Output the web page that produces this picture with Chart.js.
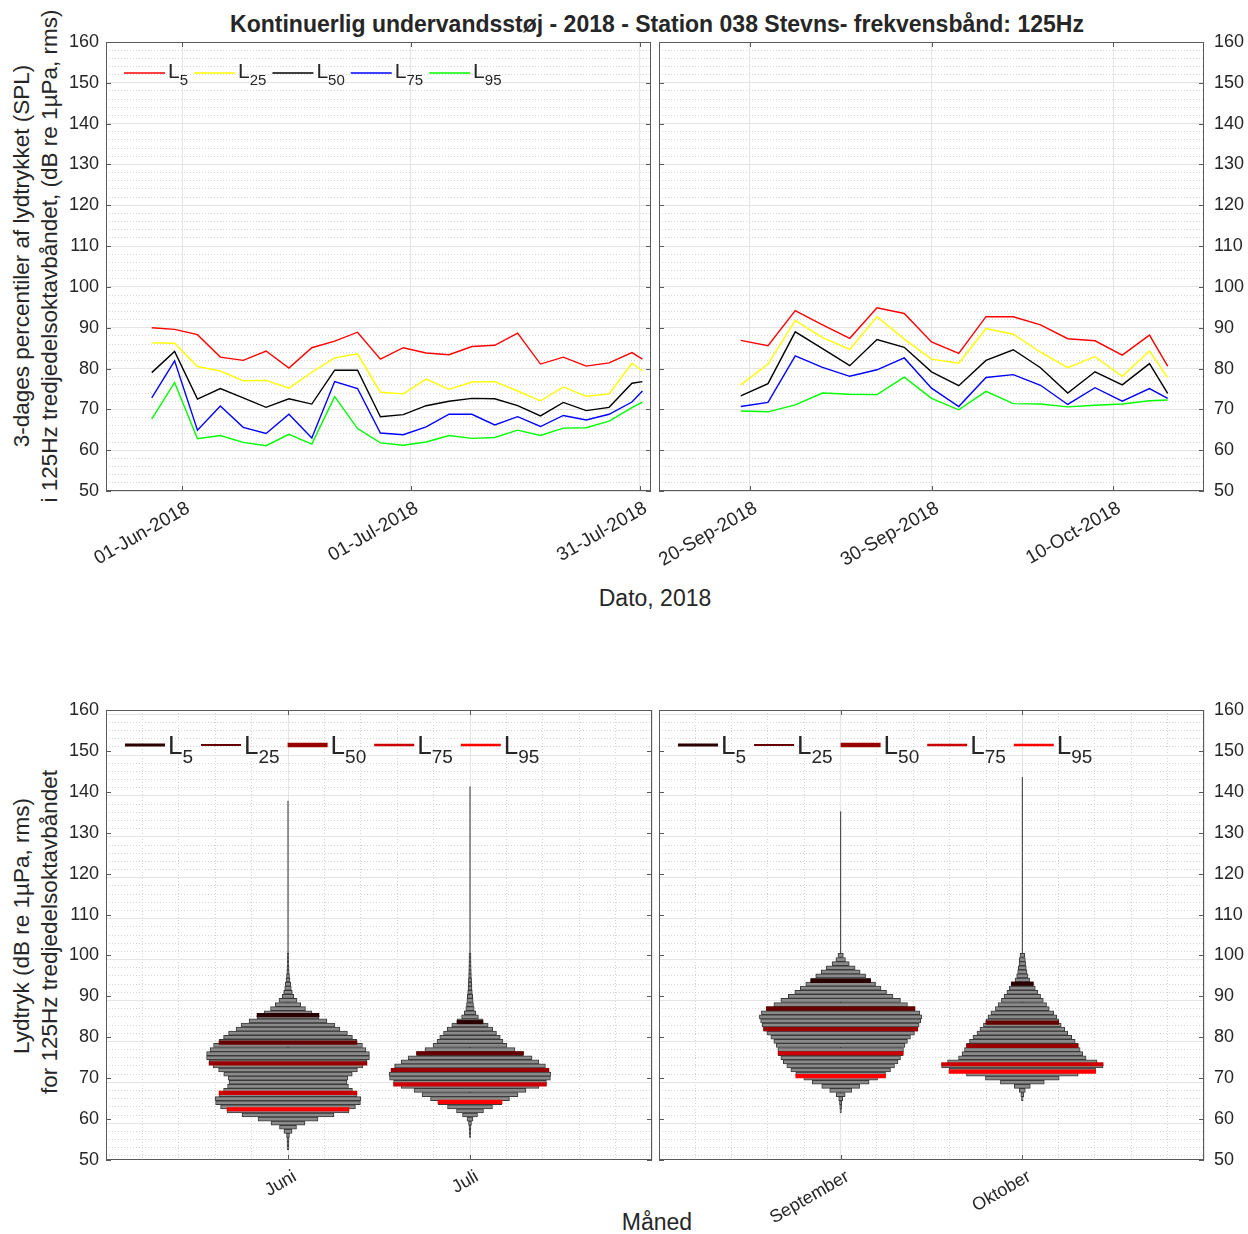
<!DOCTYPE html>
<html>
<head>
<meta charset="utf-8">
<script src="https://cdn.jsdelivr.net/npm/chart.js@4.4.0/dist/chart.umd.min.js"></script>
<style>
  body { margin: 0; background: #fff; width: 1248px; height: 1234px; position: relative; overflow: hidden;
         font-family: 'Liberation Sans', Arial, sans-serif; color: #262626; }
  canvas { position: absolute; }
  .t { position: absolute; white-space: nowrap; transform: translate(-50%, -50%); }
  .rot { transform: translate(-50%, -50%) rotate(-90deg); }
</style>
</head>
<body>
<div class="t" style="left:657px;top:24px;font-weight:bold;font-size:23px">Kontinuerlig undervandsstøj - 2018 - Station 038 Stevns- frekvensbånd: 125Hz</div>
<div class="t rot" style="left:22px;top:256px;font-size:22.5px">3-dages percentiler af lydtrykket (SPL)</div>
<div class="t rot" style="left:50px;top:256px;font-size:22.5px">i 125Hz tredjedelsoktavbåndet, (dB re 1µPa, rms)</div>
<div class="t" style="left:655px;top:598px;font-size:23px">Dato, 2018</div>
<div class="t rot" style="left:22px;top:926px;font-size:22.5px">Lydtryk (dB re 1µPa, rms)</div>
<div class="t rot" style="left:50px;top:932px;font-size:22.5px">for 125Hz tredjedelsoktavbåndet</div>
<div class="t" style="left:657px;top:1222px;font-size:23px">Måned</div>

<canvas id="tl" width="655" height="620" style="left:0;top:0"></canvas>
<canvas id="tr" width="593" height="620" style="left:655px;top:0"></canvas>
<canvas id="bl" width="655" height="594" style="left:0;top:640px"></canvas>
<canvas id="br" width="593" height="594" style="left:655px;top:640px"></canvas>

<script>
// --- 3-dages percentiler, juni-juli
const summerDates = ['2018-05-28', '2018-05-31', '2018-06-03', '2018-06-06', '2018-06-09', '2018-06-12',
  '2018-06-15', '2018-06-18', '2018-06-21', '2018-06-24', '2018-06-27', '2018-06-30', '2018-07-03',
  '2018-07-06', '2018-07-09', '2018-07-12', '2018-07-15', '2018-07-18', '2018-07-21', '2018-07-24',
  '2018-07-27', '2018-07-30', '2018-07-31T09:00Z'];
const summerL5 = [90.0, 89.6, 88.3, 82.8, 82.0, 84.3, 80.1, 85.1, 86.7, 88.9, 82.3, 85.1, 83.8, 83.4, 85.4, 85.7, 88.7, 81.1, 82.8, 80.6, 81.4, 83.9, 82.3];
const summerL25 = [86.3, 86.2, 80.5, 79.4, 77.0, 77.1, 75.2, 79.1, 82.6, 83.6, 74.2, 73.8, 77.4, 74.9, 76.7, 76.8, 74.5, 72.1, 75.5, 73.2, 73.8, 81.3, 79.4];
const summerL50 = [79.0, 84.2, 72.5, 75.1, 72.8, 70.5, 72.6, 71.3, 79.6, 79.6, 68.2, 68.7, 70.9, 72.0, 72.7, 72.6, 70.9, 68.4, 71.7, 69.7, 70.5, 76.4, 76.8];
const summerL75 = [72.8, 81.9, 64.9, 70.8, 65.6, 64.1, 68.8, 63.0, 76.8, 75.1, 64.2, 63.8, 65.7, 68.8, 68.8, 66.2, 68.2, 65.8, 68.5, 67.4, 68.8, 71.8, 74.5];
const summerL95 = [67.6, 76.6, 62.8, 63.6, 61.9, 61.1, 63.9, 61.5, 73.1, 65.3, 61.8, 61.2, 62.0, 63.6, 62.9, 63.1, 64.9, 63.6, 65.4, 65.5, 67.1, 70.4, 71.8];
const summerTicks = ['2018-06-01', '2018-07-01', '2018-07-31'];
const summerRange = ['2018-05-22', '2018-08-01T12:00Z'];

// --- 3-dages percentiler, september-oktober
const autumnDates = ['2018-09-19T12:00Z', '2018-09-21', '2018-09-22T12:00Z', '2018-09-24', '2018-09-25T12:00Z',
  '2018-09-27', '2018-09-28T12:00Z', '2018-09-30', '2018-10-01T12:00Z', '2018-10-03', '2018-10-04T12:00Z',
  '2018-10-06', '2018-10-07T12:00Z', '2018-10-09', '2018-10-10T12:00Z', '2018-10-12', '2018-10-13'];
const autumnL5 = [86.9, 85.6, 94.2, 90.7, 87.4, 94.9, 93.5, 86.5, 83.7, 92.7, 92.7, 90.7, 87.3, 86.8, 83.3, 88.2, 80.6];
const autumnL25 = [76.0, 81.1, 91.8, 87.6, 84.7, 92.7, 87.2, 82.3, 81.3, 89.8, 88.4, 84.0, 80.2, 82.9, 78.1, 84.3, 77.8];
const autumnL50 = [73.3, 76.3, 89.0, 84.9, 80.7, 87.1, 85.2, 79.2, 75.8, 82.0, 84.6, 80.2, 74.0, 79.2, 76.0, 81.2, 73.9];
const autumnL75 = [70.7, 71.7, 83.1, 80.3, 78.1, 79.7, 82.6, 75.2, 70.7, 77.8, 78.5, 75.9, 71.2, 75.3, 72.0, 75.1, 72.7];
const autumnL95 = [69.6, 69.4, 71.1, 74.0, 73.7, 73.6, 77.9, 72.7, 69.9, 74.4, 71.4, 71.3, 70.6, 71.0, 71.3, 72.1, 72.3];
const autumnTicks = ['2018-09-20', '2018-09-30', '2018-10-10'];
const autumnRange = ['2018-09-15', '2018-10-15'];

const pctNames = ['5', '25', '50', '75', '95'];

// --- fordeling pr. maaned (1 dB klasser, relativ hyppighed)
const levels = [52, 53, 54, 55, 56, 57, 58, 59, 60, 61, 62, 63, 64, 65, 66, 67, 68, 69, 70, 71, 72, 73, 74, 75,
  76, 77, 78, 79, 80, 81, 82, 83, 84, 85, 86, 87, 88, 89, 90, 91, 92, 93, 94, 95, 96, 97, 98, 99, 100];
const histJuni = [0, 0.8, 1, 1, 1.5, 4, 8.5, 17, 30, 46, 61, 67.5, 72.5, 73, 69, 64.5, 60.5, 59, 60, 64.3, 69.5, 75, 79, 81.5,
  81.5, 78, 74.5, 69, 64.5, 59.5, 52, 47, 39, 31, 24, 17.5, 12.7, 9, 5.8, 4.3, 3.3, 2.8, 2, 1.5, 1.2, 1, 0.8, 0.7, 0.7];
const histJuli = [0, 0, 0, 0, 0.7, 0.8, 1, 1.5, 3, 7.5, 13.5, 22.5, 32, 39.5, 48, 56, 69, 76.5, 80.5, 81, 79, 75.5, 69, 62,
  53.5, 45, 37, 33, 30.3, 26.5, 22.8, 18.2, 13, 8.4, 5.8, 4.2, 3.5, 3.1, 2.7, 2.3, 2, 1.8, 1.6, 1.4, 1.3, 1.2, 1.1, 1, 1];
const histSep = [0, 0, 0, 0, 0, 0, 0, 0, 0, 0, 0.7, 0.9, 1.2, 2, 4.5, 11, 19, 28.5, 37, 45, 50, 54, 57.5, 60,
  62.7, 63, 64.5, 67, 70, 74, 77.3, 78.7, 80.3, 81.5, 79.5, 74.5, 67, 60, 52.5, 46, 40.5, 35, 30, 25, 19.5, 14.5, 8.6, 4.8, 2.7];
const histOkt = [0, 0, 0, 0, 0, 0, 0, 0, 0, 0, 0, 0, 0, 0.8, 1.5, 3, 8, 22, 37, 56, 73.5, 81, 75, 64,
  60.5, 58, 56, 53, 49.5, 45.5, 42.5, 39, 36.5, 34.5, 31.5, 27, 24.3, 21, 18.3, 15.5, 13, 11, 7.3, 5.7, 4.7, 4, 3.3, 3, 2.4];
const pctJuni = [85.4, 78.7, 73.6, 66.4, 62.4];
const pctJuli = [83.7, 76.1, 72.0, 68.5, 64.2];
const pctSep = [93.8, 87.0, 82.0, 76.1, 70.5];
const pctOkt = [93.1, 83.6, 77.9, 73.4, 71.6];
const tailJuni = [53.2, 137.8];   // min / max niveau
const tailJuli = [56.1, 141.3];
const tailSep = [61.7, 135.2];
const tailOkt = [64.5, 143.6];
const monthsSummer = ['Juni', 'Juli'];
const monthsAutumn = ['September', 'Oktober'];

// --- stil
const FONT = "'Liberation Sans', Arial, sans-serif";
const TXT = '#262626';
Chart.defaults.font.family = FONT;
Chart.defaults.color = TXT;
Chart.defaults.animation = false;

const lineColors = ['#ff0000', '#ffff00', '#000000', '#0000ff', '#00ff00'];
const pctColors = ['#2a0000', '#660000', '#990000', '#cc0000', '#ff0000'];
const pctLegendWidth = [3, 2, 4.5, 2.5, 2.5];
const VIOLIN_SCALE = 0.45 / 82;

const DAY = 86400000;
const dayNo = (s, ref) => (Date.parse(s) - Date.parse(ref)) / DAY;
const MON = ['Jan', 'Feb', 'Mar', 'Apr', 'May', 'Jun', 'Jul', 'Aug', 'Sep', 'Oct', 'Nov', 'Dec'];
function fmtDate(s) {
  const d = new Date(Date.parse(s));
  return String(d.getUTCDate()).padStart(2, '0') + '-' + MON[d.getUTCMonth()] + '-' + d.getUTCFullYear();
}
const isInt = v => Math.abs(v - Math.round(v)) < 1e-6;

// ramme + indadvendte tick marks (matlab stil)
const boxPlugin = {
  id: 'box',
  afterDatasetsDraw(chart) {
    const { ctx, chartArea: a, scales } = chart;
    ctx.save();
    ctx.strokeStyle = '#5a5a5a';
    ctx.lineWidth = 1;
    ctx.beginPath();
    scales.y.ticks.forEach(t => {
      if (t.value % 10 !== 0) return;
      const py = Math.round(scales.y.getPixelForValue(t.value)) + 0.5;
      ctx.moveTo(a.left, py); ctx.lineTo(a.left + 5, py);
      ctx.moveTo(a.right - 5, py); ctx.lineTo(a.right, py);
    });
    scales.x.ticks.forEach(t => {
      if (!t.label) return;
      const px = Math.round(scales.x.getPixelForValue(t.value)) + 0.5;
      ctx.moveTo(px, a.bottom); ctx.lineTo(px, a.bottom - 5);
      ctx.moveTo(px, a.top); ctx.lineTo(px, a.top + 5);
    });
    ctx.stroke();
    ctx.strokeRect(Math.round(a.left) + 0.5, Math.round(a.top) + 0.5, Math.round(a.width) - 1, Math.round(a.height) - 1);
    ctx.restore();
  }
};

// legende med L + subscript
const subLegend = {
  id: 'subLegend',
  afterDraw(chart, args, o) {
    if (!o.show) return;
    const ctx = chart.ctx;
    let x = chart.chartArea.left + o.dx;
    const y = chart.chartArea.top + o.dy;
    ctx.save();
    ctx.textAlign = 'left';
    ctx.textBaseline = 'alphabetic';
    for (let i = 0; i < pctNames.length; i++) {
      ctx.strokeStyle = o.colors[i];
      ctx.lineWidth = o.widths[i];
      ctx.beginPath(); ctx.moveTo(x, y); ctx.lineTo(x + o.len, y); ctx.stroke();
      x += o.len + o.gap;
      ctx.fillStyle = TXT;
      ctx.font = o.size + 'px ' + FONT;
      ctx.fillText('L', x, y + o.base);
      x += ctx.measureText('L').width;
      ctx.font = o.sub + 'px ' + FONT;
      ctx.fillText(pctNames[i], x, y + o.base + o.drop);
      x += ctx.measureText(pctNames[i]).width + o.after;
    }
    ctx.restore();
  }
};

function yScale(side, extra) {
  return Object.assign({
    position: side, min: 50, max: 160,
    ticks: { stepSize: 2, autoSkip: false, maxTicksLimit: 100, font: { size: 18 }, padding: side === 'left' ? 7 : 10,
      callback: v => (v % 10 === 0 ? v : '') },
    grid: { drawTicks: false, color: c => (c.tick && c.tick.value % 10 === 0 ? '#e4e4e4' : '#d4d4d4') },
    border: { display: false, dash: c => (c.tick && c.tick.value % 10 === 0 ? [] : [1, 2]) },
    afterFit: s => { s.width = side === 'left' ? 106 : 44; s.paddingTop = 0; s.paddingBottom = 0; }
  }, extra || {});
}

function lineChart(id, dates, series, ticks, range, side, showLegend) {
  const ref = ticks[0];
  new Chart(document.getElementById(id), {
    type: 'line',
    data: {
      datasets: series.map((vals, k) => ({
        label: 'L' + pctNames[k],
        data: vals.map((v, i) => ({ x: dayNo(dates[i], ref), y: v })),
        borderColor: lineColors[k], borderWidth: 1.4, pointRadius: 0, tension: 0
      }))
    },
    options: {
      responsive: false,
      layout: { autoPadding: false, padding: { top: 42, left: side === 'left' ? 0 : 4, right: side === 'left' ? 4 : 0, bottom: 0 } },
      plugins: {
        legend: { display: false }, tooltip: { enabled: false },
        subLegend: { show: showLegend, dx: 18, dy: 31, len: 41, gap: 3, after: 6, size: 21, sub: 15, base: 5, drop: 7,
          colors: lineColors, widths: [1.4, 1.4, 1.4, 1.4, 1.4] }
      },
      scales: {
        x: {
          type: 'linear', min: dayNo(range[0], ref), max: dayNo(range[1], ref),
          afterBuildTicks: ax => { ax.ticks = ticks.map(s => ({ value: dayNo(s, ref) })); },
          ticks: { autoSkip: false, minRotation: 30, maxRotation: 30, font: { size: 19 }, padding: 6, labelOffset: 6,
            callback: (v, i) => fmtDate(ticks[i]) },
          grid: { drawTicks: false, color: '#e4e4e4' },
          border: { display: false },
          afterFit: s => { s.height = 129; s.paddingLeft = 0; s.paddingRight = 0; }
        },
        y: yScale(side)
      }
    },
    plugins: [boxPlugin, subLegend]
  });
}

function violinChart(id, hists, pcts, tails, names, side) {
  const datasets = [];
  hists.forEach((h, m) => {
    const c = m + 1;
    const pts = [];
    levels.forEach((lv, k) => {
      if (h[k]) pts.push({ y: lv, x: [c - h[k] * VIOLIN_SCALE, c + h[k] * VIOLIN_SCALE] });
    });
    datasets.push({ type: 'bar', data: pts, backgroundColor: '#8a8a8a', borderColor: '#3a3a3a', borderWidth: 1,
      borderSkipped: false, grouped: false, barThickness: 4, order: 2 });
    // percentil-klasser fremhaevet i farve
    const marks = pcts[m].map(p => {
      const w = h[levels.indexOf(Math.round(p))];
      return { y: p, x: [c - w * VIOLIN_SCALE, c + w * VIOLIN_SCALE] };
    });
    datasets.push({ type: 'bar', data: marks, backgroundColor: pctColors, borderColor: pctColors, borderWidth: 0,
      grouped: false, barThickness: 3.5, order: 1 });
    datasets.push({ type: 'line', data: [{ x: c, y: tails[m][0] }, { x: c, y: tails[m][1] }],
      borderColor: '#333', borderWidth: 1, pointRadius: 0, order: 3 });
  });
  new Chart(document.getElementById(id), {
    type: 'bar',
    data: { datasets },
    options: {
      responsive: false,
      indexAxis: 'y',
      layout: { autoPadding: false, padding: { top: 70, left: side === 'left' ? 0 : 4, right: side === 'left' ? 3 : 0, bottom: 0 } },
      plugins: {
        legend: { display: false }, tooltip: { enabled: false },
        subLegend: { show: true, dx: 19, dy: 35, len: 40, gap: 3, after: 8, size: 26, sub: 19, base: 9, drop: 9,
          colors: pctColors, widths: pctLegendWidth }
      },
      scales: {
        x: {
          type: 'linear', min: 0, max: 3,
          ticks: { stepSize: 0.2, autoSkip: false, minRotation: 30, maxRotation: 30, font: { size: 18 }, padding: 6, labelOffset: 7,
            callback: v => (isInt(v) && names[Math.round(v) - 1] ? names[Math.round(v) - 1] : '') },
          grid: { drawTicks: false, color: c => (c.tick && isInt(c.tick.value) ? '#e4e4e4' : '#d4d4d4') },
          border: { display: false, dash: c => (c.tick && isInt(c.tick.value) ? [] : [1, 2]) },
          afterFit: s => { s.height = 74; s.paddingLeft = 0; s.paddingRight = 0; }
        },
        y: yScale(side, { type: 'linear', offset: false })
      }
    },
    plugins: [boxPlugin, subLegend]
  });
}

lineChart('tl', summerDates, [summerL5, summerL25, summerL50, summerL75, summerL95], summerTicks, summerRange, 'left', true);
lineChart('tr', autumnDates, [autumnL5, autumnL25, autumnL50, autumnL75, autumnL95], autumnTicks, autumnRange, 'right', false);
violinChart('bl', [histJuni, histJuli], [pctJuni, pctJuli], [tailJuni, tailJuli], monthsSummer, 'left');
violinChart('br', [histSep, histOkt], [pctSep, pctOkt], [tailSep, tailOkt], monthsAutumn, 'right');
</script>
</body>
</html>
